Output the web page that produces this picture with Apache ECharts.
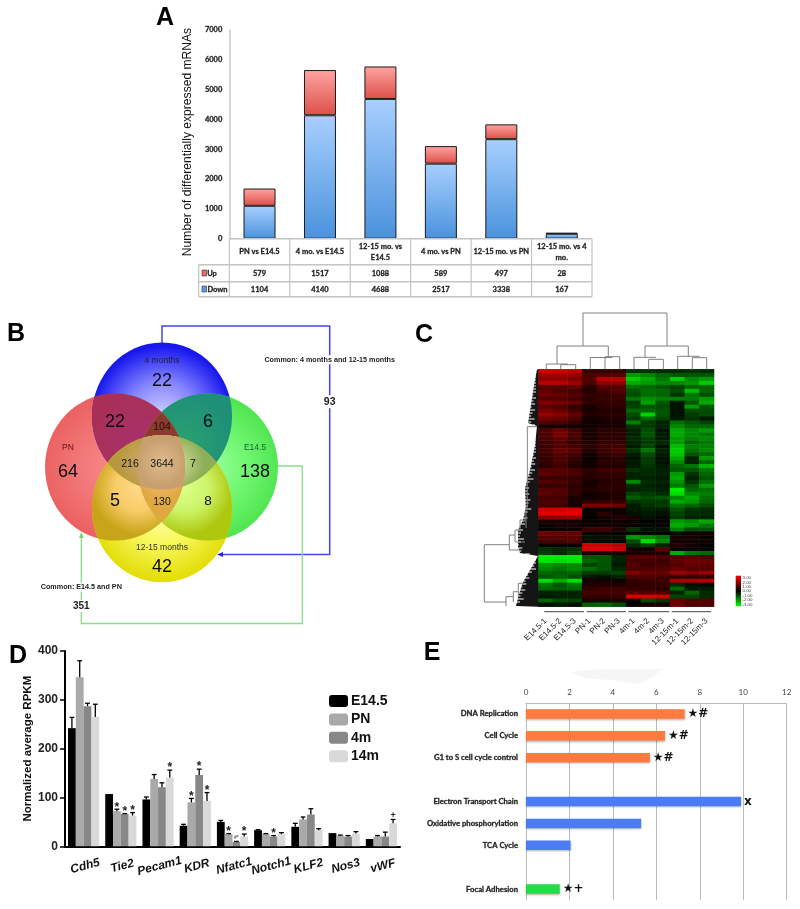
<!DOCTYPE html>
<html><head><meta charset="utf-8">
<style>html,body{margin:0;padding:0;background:#fff}#c{width:800px;height:909px}</style>
<script src="https://cdn.jsdelivr.net/npm/echarts@6/dist/echarts.min.js"></script>
</head><body><div id="c"></div>
<script>
// ---------- Panel A data
const aCategories = ['PN vs E14.5','4 mo. vs E14.5','12-15 mo. vs\nE14.5','4 mo. vs PN','12-15 mo. vs PN','12-15 mo. vs 4\nmo.'];
const aUp = [579,1517,1088,589,497,28];
const aDown = [1104,4140,4688,2517,3338,167];
// ---------- Panel B data
const vennBig = {only4m:22, rb:22, bg:6, onlyPN:64, onlyE:138, ry:5, gy:8, only12:42};
const vennSmall = {rbg:104, rby:216, all:3644, bgy:7, rgy:130};
const commonLate = 93, commonEarly = 351;
// ---------- Panel C data
const cColumns = ['E14.5-1','E14.5-2','E14.5-3','PN-1','PN-2','PN-3','4m-1','4m-2','4m-3','12-15m-1','12-15m-2','12-15m-3'];
const cRows = [
[2.4,2.4,2.2,.6,.6,.6,-.6,-.6,-.5,-.5,-.6,-.5],
[1.9,1.9,1.7,.9,1.0,1.0,-1.8,-1.5,-1.2,-1.0,-1.0,-1.0],
[1.7,1.7,1.5,1.0,2.2,2.2,-2.4,-2.0,-1.4,-2.4,-1.6,-1.8],
[2.2,2.2,1.8,.9,1.7,1.7,-2.0,-1.8,-1.6,-1.6,-1.8,-2.4],
[1.0,1.0,1.2,.5,1.0,1.0,-1.3,-1.2,-1,-.8,-1.2,-1.2],
[1.1,.9,.8,.4,.8,1.0,-1.0,-1.3,-1.2,-.9,-2.2,-1.2],
[1.3,1.2,1.0,.6,.6,.7,-.9,-1.3,-1.2,-.6,-1.4,-.9],
[1.0,1.0,.8,.5,.7,.7,-1.4,-1.7,-1.5,-1.5,-1.4,-1.8],
[1.5,1.4,1.2,.6,.6,.6,-.7,-1.9,-1.0,-.3,-1,-2.0],
[1.1,.9,.6,.3,.5,.5,-.8,-1.0,-.9,-.2,-1.8,-1.0],
[1.4,1.2,.8,.3,.4,.4,-1.2,-1.2,-1,-.2,-.9,-.9],
[1.8,1.6,1.2,.4,.5,.5,-.9,-2.5,-1.0,-.2,-.7,-.9],
[1.3,1.2,.9,.2,.3,.4,-.7,-1.2,-.8,-.3,-.6,-.3],
[1.0,.9,.6,.2,.3,.3,-1.5,-.7,-.4,-1.3,-1.0,-.8],
[.3,.3,.2,.2,.3,.3,-.6,-.7,-.4,-1.6,-1.2,-1.2],
[.9,1.3,.8,.3,.5,.5,-.4,-.9,-.2,-2,-1.6,-1.8],
[.9,1.4,.9,.3,.5,.5,-.4,-1.0,-.3,-2,-1.6,-1.4],
[.9,1.2,.8,.3,.5,.5,-.5,-.8,-.3,-1.8,-1.5,-1.6],
[.7,1.0,.6,.4,.6,.6,-.4,-.7,-.5,-1.8,-1.2,-1.4],
[.7,1.0,.8,.5,.7,.8,-.3,-.8,-.2,-2.2,-1.5,-1.5],
[.8,1.2,1.0,.4,.7,.9,-.6,-1.4,-.4,-2.4,-1.3,-1.6],
[.7,1.0,.8,.2,.6,.7,-.3,-.9,-.3,-2.3,-1,-1.2],
[.6,.9,.6,.1,.4,.5,-.2,-.7,-.2,-2.0,-.4,-1.8],
[.6,.9,.5,.2,.5,.5,-.3,-.7,-.2,-1.6,-.4,-1.2],
[.5,.8,.4,.2,.4,.4,-.3,-.6,-.3,-1.2,-1.4,-2.1],
[1.0,1.0,.8,.5,.7,.7,-.6,-.5,-.4,-1,-1,-1.4],
[1.1,1.0,.9,.5,.6,.6,-.4,-.5,-.4,-1.8,-.6,-1.2],
[.7,.7,.6,.4,.5,.5,-.4,-.4,-.3,-2,-.4,-1],
[1.0,.9,.7,.3,.4,.5,-1.6,-.5,-.4,-1.7,-.6,-1.3],
[.6,.7,.5,.3,.5,.5,-.5,-.4,-.3,-1.4,-1.0,-1.8],
[1.0,1.0,.6,.4,.5,.5,-.4,-.5,-.4,-2.8,-1.2,-1.3],
[1.1,1.0,.6,.2,.3,.4,-.8,-.7,-.5,-2.6,-1.6,-1.5],
[.8,.8,.3,.2,.3,.4,-1.1,-.9,-1.0,-1.6,-2.0,-1.3],
[.9,.9,.3,.5,.6,.6,-.6,-.7,-.6,-2,-1.8,-1.2],
[.8,.7,.2,1.5,1.5,1.3,-.3,-.6,-.7,-1.4,-1.2,-.9],
[2.5,2.5,2.6,.1,.1,.2,-.3,-.4,-.3,-1,-.6,-.5],
[2.7,2.7,2.7,.1,.5,.2,-.2,-.3,-.2,-.8,-.5,-.5],
[1.6,1.7,1.8,0,.3,.4,.3,-.2,-.1,-.7,-.4,-.4],
[.3,.3,.2,.1,.1,.2,.2,0,.1,-1.8,-1.6,-2.0],
[.1,.3,.3,.1,.2,.2,.1,-.1,.1,-2,-1.8,-1.4],
[0,.2,.2,.7,.8,.4,-.6,-.2,-.2,-1.5,-.9,-1.0],
[1.3,1.2,1.2,.1,.1,.1,-.1,-.1,0,-.2,.2,.2],
[1.0,1.0,1.0,-.2,-.2,-.2,-1.8,-1.6,-1.4,.3,.3,.1],
[.8,.8,.9,-.1,-.1,-.1,-.9,-2.6,-1.6,.2,.2,.2],
[.1,.1,.1,2.4,2.4,2.2,-.5,-.8,-.4,.4,.2,0],
[-.6,-.5,-.6,2.6,2.6,2.4,.2,.2,1.0,.1,.1,.1],
[-.7,-.5,-.8,.3,.3,.3,.3,.4,.3,-2,-1.4,-1.2],
[-2.8,-2.8,-2.8,-1,-1,-.4,1,1,.9,1,1.1,1],
[-2.7,-2.6,-2.7,-1.2,-1.0,-.4,.8,.8,.7,1.1,1.3,1.2],
[-1.8,-1.6,-1.6,-.8,-1,-.3,1,.7,.8,1,1.2,1.1],
[-1.6,-1.4,-1.6,-1.3,-1,-.5,.9,.9,1,1.2,1,1.0],
[-1.2,-1.1,-1.2,-.7,-.7,-.8,1.5,1.2,1.2,1.8,1.6,1.8],
[-1.0,-1.2,-.9,-.3,-.2,-.4,.9,.9,.8,.5,.5,.5],
[-2.6,-2.0,-2.6,.3,.3,.2,.6,.7,.7,2,2,2.1],
[-1.4,-1.0,-1.4,.4,.4,.4,.5,.6,.6,-.5,-.2,-.1],
[-1.2,-1.1,-1.2,.6,.7,.7,.6,.6,.5,-1.2,-.3,-.3],
[-.4,-.4,-.4,.8,.8,.8,1.0,.9,.9,-.4,-1.2,-.5],
[-.3,-.4,-.4,.6,.6,.6,2.6,2.5,2.4,-.8,-.8,-.5],
[-1.2,-.9,-.8,.3,.3,.3,.1,-.9,-.6,1.2,1,1],
[-.2,-.3,-.2,-1.1,-1.2,-.9,.1,.3,.3,1.3,.9,.9]
];
const cScaleLabels = ['3.00','2.00','1.00','0.00','-1.00','-2.00','-3.00'];
// ---------- Panel D data
const dGenes = ['Cdh5','Tie2','Pecam1','KDR','Nfatc1','Notch1','KLF2','Nos3','vWF'];
const dE145 = [242,107,96,42,50,33,40,27,15];
const dPN   = [346,72,138,90,25,25,55,22,20];
const d4m   = [287,66,121,146,9,20,65,20,20];
const d14m  = [265,63,141,93,20,25,33,26,47];
const dE145Top = [264,107,101,45,53,34,47,27,15];
const dPNTop   = [380,76,147,98,26,26,60,23,22];
const d4mTop   = [293,67,130,158,10,22,77,22,29];
const d14mTop  = [291,69,156,110,25,28,36,30,55];
const dPNMarks = ['','*','','*','*','','','',''];
const d4mMarks = ['','*','','*','#*','*','','',''];
const d14mMarks = ['','*','*','*','*','','','','+'];
// ---------- Panel E data
const ePathways = ['DNA Replication','Cell Cycle','G1 to S cell cycle control','','Electron Transport Chain','Oxidative phosphorylation','TCA Cycle','','Focal Adhesion'];
const eValues = [7.3,6.4,5.7,null,9.9,5.3,2.05,null,1.55];
const eMarks = ['★#','★#','★#','','x','','','','★+'];
const eColors = ['#ff7a3e','#ff7a3e','#ff7a3e','#fff','#4c7cf2','#4c7cf2','#4c7cf2','#fff','#22dd44'];

// ---------- helpers
const SANS='"Liberation Sans",Arial,sans-serif', LATO='Lato,sans-serif';
const HEAVY={textBorderColor:'#333',textBorderWidth:.3};
const HEAVY_EL={stroke:'#333',lineWidth:.3};
const G=[];
const line=(pts,stroke,lw,z)=>G.push({type:'polyline',z:z||5,silent:true,shape:{points:pts},style:{stroke,lineWidth:lw||1,fill:null}});
const txt=(t,x,y,o)=>G.push({type:'text',z:(o&&o.z)||20,silent:true,x,y,rotation:(o&&o.rot)||0,style:Object.assign({text:String(t),fill:'#111',font:'10px '+SANS,align:'center',verticalAlign:'middle'},o&&o.s)});

// Panel letters
[['A',165,18],['B',16,334],['C',424,335],['D',18,656],['E',432,653]].forEach(l=>txt(l[0],l[1],l[2],{s:{font:'bold 25px '+SANS,fill:'#000'}}));
txt('Number of differentially expressed mRNAs',188,142,{rot:Math.PI/2,s:{font:'12.1px '+SANS,fill:'#111'}});

// Panel A table rules
const tx0=229.3,tw=362.7/6,trows=[238.7,264.7,281.7,296.7],tl=198.7;
line([[tx0,trows[0]],[tx0+tw*6,trows[0]]],'#c4c4c4',1.5);
trows.slice(1).forEach(y=>line([[tl,y],[tx0+tw*6,y]],'#c4c4c4',1.5));
for(let i=0;i<=6;i++) line([[tx0+tw*i,trows[0]],[tx0+tw*i,trows[3]]],'#c4c4c4',1.2);
line([[tl,trows[1]],[tl,trows[3]]],'#c4c4c4',1.2);
G.push({type:'rect',z:6,silent:true,shape:{x:202,y:270,width:4.5,height:6},style:{fill:'#e86a62',stroke:'#333',lineWidth:.6}});
G.push({type:'rect',z:6,silent:true,shape:{x:202,y:286,width:4.5,height:6},style:{fill:'#5a9ee0',stroke:'#333',lineWidth:.6}});
txt('Up',212,273.5,{s:Object.assign({font:'bold 7.5px '+LATO,fill:'#222'},HEAVY_EL)});
txt('Down',217.5,289.5,{s:Object.assign({font:'bold 7.5px '+LATO,fill:'#222'},HEAVY_EL)});

// Panel B venn: convex regions are stacked from single sets to the four-way centre
const E={r:[115,467,70,73.6],b:[162,416,70,73.6],g:[208,467,70,73.6],y:[162,508.7,70,73.6]};
const inside=(p,e)=>{const dx=(p[0]-e[0])/e[2],dy=(p[1]-e[1])/e[3];return dx*dx+dy*dy<=1.0001;};
function regionPts(keys){
  let pts=[];
  keys.split('').forEach(k=>{const e=E[k];for(let a=0;a<720;a++){const t=a/720*2*Math.PI,p=[e[0]+e[2]*Math.cos(t),e[1]+e[3]*Math.sin(t)];if(keys.split('').every(q=>inside(p,E[q])))pts.push(p);}});
  if(!pts.length)return pts;
  const cx=pts.reduce((s,p)=>s+p[0],0)/pts.length,cy=pts.reduce((s,p)=>s+p[1],0)/pts.length;
  pts.sort((a,b)=>Math.atan2(a[1]-cy,a[0]-cx)-Math.atan2(b[1]-cy,b[0]-cx));
  return pts;
}
const rad=(stops)=>({type:'radial',x:.5,y:.5,r:.5,colorStops:stops.map((c,i)=>({offset:i/(stops.length-1),color:c}))});
const vennSets=[['r',['#f88a8a','#f27878','#ec6262']],['b',['#d0d0ff','#8484ff','#1818ee']],['g',['#a0ffa0','#74f874','#52e652']],['y',['#ffffb8','#f8f85c','#e4de0c']]];
vennSets.forEach(s=>{const e=E[s[0]];G.push({type:'ellipse',z:7,silent:true,shape:{cx:e[0],cy:e[1],rx:e[2],ry:e[3]},style:{fill:rad(s[1])}});});
const vennRegions=[['rb',['#a8306c','#a83058']],['bg',['#2aa070','#1f9078']],['ry',['#ffd888','#f8cc68','#c8a418']],['gy',['#dcff88','#ccf468','#aec810']],['rg',['#c09030','#c09030']],['by',['#c8c080','#a8a040']],
['rbg',['#8c3a2c','#8c3a2c']],['rby',['#cfac76','#b89a3e']],['bgy',['#cfe09a','#8fae58']],['rgy',['#f4bc70','#e0a840']],['rbgy',['#dcbc8c','#c8a070']]];
vennRegions.forEach((r,i)=>{const pts=regionPts(r[0]);if(pts.length)G.push({type:'polygon',z:8+r[0].length,silent:true,shape:{points:pts},style:{fill:rad(r[1])}});});
const big=f=>({s:{font:f+'px '+SANS,fill:'#0c0c14'}});
txt(vennBig.only4m,162,381,big(18));txt(vennBig.rb,115,422,big(18));txt(vennBig.bg,208,422,big(18));
txt(vennBig.onlyPN,68,472,big(18));txt(vennBig.onlyE,255,472,big(18));txt(vennBig.ry,115,501,big(18));
txt(vennBig.gy,208,501,big(13.5));txt(vennBig.only12,162,567,big(18));
const sm={s:{font:'10.5px '+SANS,fill:'#1a1410'}};
txt(vennSmall.rbg,162,427,sm);txt(vennSmall.rby,130,464,sm);txt(vennSmall.all,162,464,sm);txt(vennSmall.bgy,193,464,sm);txt(vennSmall.rgy,162,502,sm);
const lb={s:{font:'8.5px '+SANS,fill:'#223'}};
txt('4 months',162,361,lb);txt('PN',68,448,{s:{font:'8.5px '+SANS,fill:'#611'}});txt('E14.5',255,448,{s:{font:'8.5px '+SANS,fill:'#163'}});txt('12-15 months',162,548,{s:{font:'8.5px '+SANS,fill:'#332'}});
line([[162,343],[162,326],[329.7,326],[329.7,554.5],[222,554.5]],'#4444ee',1.5,6);
G.push({type:'polygon',z:6,silent:true,shape:{points:[[217,554.5],[223,552],[223,557]]},style:{fill:'#2222ee'}});
line([[278,466],[302.3,466],[302.3,623.5],[81.3,623.5],[81.3,538]],'#88e088',1.3,6);
G.push({type:'polygon',z:6,silent:true,shape:{points:[[81.3,532],[79,538],[83.6,538]]},style:{fill:'#66dd66'}});
const white={backgroundColor:'#fff',padding:[1,1]};
txt('Common: 4 months and 12-15 months',329.7,359.7,{s:Object.assign({font:'bold 7.2px '+SANS,fill:'#222'},white)});
txt(commonLate,329.7,401.7,{s:Object.assign({font:'bold 10.5px '+SANS,fill:'#222'},white)});
txt('Common: E14.5 and PN',81.3,587,{s:Object.assign({font:'bold 7.2px '+SANS,fill:'#222'},white)});
txt(commonEarly,81.3,606,{s:Object.assign({font:'bold 10px '+SANS,fill:'#222'},white)});

// Panel C dendrograms
const treeGray='#808080';
[ [[583,313],[667,313]],
  [[583,313],[583,346]],[[557,346],[608.3,346]],[[557,346],[557,364]],[[608.3,346],[608.3,356.7]],
  [[546.3,364],[568,364]],[[546.3,364],[546.3,369.3]],[[560.7,364.7],[575.7,364.7]],[[560.7,364.7],[560.7,369.3]],[[575.7,364.7],[575.7,369.3]],
  [[590.3,357.5],[612.3,357.5]],[[590.3,357.5],[590.3,369.3]],[[605,356.7],[619.7,356.7]],[[605,356.7],[605,369.3]],[[619.7,356.7],[619.7,369.3]],
  [[667,313],[667,346]],[[645,346],[688.3,346]],[[645,346],[645,357.3]],[[688.3,346],[688.3,356]],
  [[634,357.3],[656,357.3]],[[634,357.3],[634,369.3]],[[648.7,359.3],[663.3,359.3]],[[648.7,359.3],[648.7,369.3]],[[663.3,359.3],[663.3,369.3]],
  [[677.7,356.3],[699.7,356.3]],[[677.7,356.3],[677.7,369.3]],[[692.3,357.7],[706.7,357.7]],[[692.3,357.7],[692.3,369.3]],[[706.7,357.7],[706.7,369.3]]
].forEach(p=>line(p,treeGray,1));
const hairEdge=[[537,369.5],[534,385],[531.7,400],[528,423],[537,426],[535,445],[530,470],[525,488],[525.7,507],[523,520],[518,530],[518,547],[520,553],[538,556],[530,570],[523,582],[519,594],[516,606]];
G.push({type:'polygon',z:6,silent:true,shape:{points:hairEdge.concat([[538.3,606.7],[538.3,369.3]])},style:{fill:'#151515'}});
const hairLen=[2,4,1,5,3,2,6,3,1,4];
const edgeAt=y=>{for(let i=1;i<hairEdge.length;i++){if(y<=hairEdge[i][1]){const a=hairEdge[i-1],b=hairEdge[i];return a[0]+(b[0]-a[0])*(y-a[1])/(b[1]-a[1]);}}return 516;};
let hi=0;for(let y=371;y<605;y+=3,hi++){const x=edgeAt(y);line([[x-1,y],[Math.min(x+hairLen[hi%10],536),y]],'#ffffff',1,6);}
[ [[484.3,544.7],[509.3,544.7]],[[484.3,544.7],[484.3,602]],[[484.3,602],[506,602]],
  [[509.3,535],[509.3,550]],[[509.3,535],[515,535]],[[509.3,550],[520,550]],[[515,530],[515,542]],[[515,530],[520,530]],[[515,542],[525,542]],
  [[520,520],[520,534]],[[520,520],[526,520]],[[526,510],[526,528]],[[527.3,426.7],[527.3,510]],[[527.3,426.7],[537,426.7]],
  [[506,596.7],[506,606]],[[506,596.7],[513.3,596.7]],[[513.3,591.7],[513.3,602]],[[513.3,591.7],[518.3,591.7]],[[518.3,583.3],[518.3,597]],[[518.3,583.3],[525,583.3]]
].forEach(p=>line(p,treeGray,1,7));
// Panel C column group rules and colour key
[[544.3,584],[586.7,626],[628.3,669.3],[671.7,711]].forEach(r=>line([[r[0],611.7],[r[1],611.7]],'#444',1));
G.push({type:'rect',z:6,silent:true,shape:{x:735.7,y:575.7,width:5.3,height:30.5},style:{fill:{type:'linear',x:0,y:0,x2:0,y2:1,colorStops:[{offset:0,color:'#ff0000'},{offset:.5,color:'#000'},{offset:1,color:'#00ff00'}]}}});
cScaleLabels.forEach((t,i)=>txt(t,742.5,578+i*4.4,{s:{font:'4.4px '+SANS,align:'left',fill:'#444'}}));

// Panel E smudge
G.push({type:'polygon',z:1,silent:true,shape:{points:[[570,672],[600,669],[663,669],[652,677],[640,684],[610,680],[585,678]]},style:{fill:'#f6f6f6'}});

// ---------- Series data built from the arrays
const dSeriesVals=[dE145,dPN,d4m,d14m], dTops=[dE145Top,dPNTop,d4mTop,d14mTop], dMarks=[dGenes.map(()=>''),dPNMarks,d4mMarks,d14mMarks];
const dBarW=7.8;
const dErr=[];dSeriesVals.forEach((vals,s)=>vals.forEach((v,c)=>dErr.push([c,s,v,dTops[s][c],dMarks[s][c]])));
const heat=[];cRows.forEach((r,y)=>r.forEach((v,x)=>heat.push([x,y,v])));
const aTableData=aCategories.map((c,i)=>[i,aUp[i],aDown[i]]);
const blueFill={type:'linear',x:0,y:0,x2:0,y2:1,colorStops:[{offset:0,color:'#a8cfff'},{offset:1,color:'#4a92dc'}]};
const redFill={type:'linear',x:0,y:0,x2:0,y2:1,colorStops:[{offset:0,color:'#ffa4a2'},{offset:1,color:'#dc5048'}]};

const option={
 animation:false,backgroundColor:'#fff',
 legend:{data:['E14.5','PN','4m','14m'],left:329,top:694,padding:0,orient:'vertical',itemWidth:19,itemHeight:12,itemGap:4.4,selectedMode:false,textStyle:{fontFamily:SANS,fontWeight:'bold',fontSize:14,color:'#111',padding:[0,0,0,-2]}},
 grid:[
  {left:229.3,top:30,width:362.7,height:208.7},
  {left:65,top:651,width:335,height:195.3},
  {left:526,top:703,width:260.7,height:197},
  {left:538.3,top:369.3,width:175.7,height:237.4}
 ],
 visualMap:{show:false,seriesIndex:7,min:-3,max:3,inRange:{color:['#00ff00','#000000','#ff0000']}},
 xAxis:[
  {gridIndex:0,type:'category',data:aCategories,axisLine:{show:false},axisTick:{show:false},axisLabel:Object.assign({interval:0,margin:13,verticalAlign:'middle',lineHeight:11,fontFamily:LATO,fontWeight:'bold',fontSize:7.5,color:'#222'},HEAVY)},
  {gridIndex:1,type:'category',data:dGenes,axisLine:{lineStyle:{color:'#000',width:2}},axisTick:{alignWithLabel:true,length:5,lineStyle:{color:'#000',width:1.5}},axisLabel:{interval:0,rotate:15,margin:14,align:'center',verticalAlign:'top',fontFamily:SANS,fontWeight:'bold',fontStyle:'italic',fontSize:12,color:'#111'}},
  {gridIndex:2,type:'value',position:'top',min:0,max:12,interval:2,axisLine:{show:true,lineStyle:{color:'#bbb',width:1}},axisTick:{show:false},splitLine:{lineStyle:{color:'#bbb',width:1}},axisLabel:{margin:7,fontFamily:LATO,fontSize:8,color:'#444'}},
  {gridIndex:3,type:'category',data:cColumns,axisLine:{show:false},axisTick:{show:false},splitLine:{show:false},axisLabel:{interval:0,rotate:45,margin:13,fontFamily:SANS,fontSize:8,color:'#222'}}
 ],
 yAxis:[
  {gridIndex:0,type:'value',min:0,max:7000,interval:1000,axisLine:{show:true,lineStyle:{color:'#c8c8c8',width:1.5}},axisTick:{show:false},splitLine:{show:false},axisLabel:Object.assign({margin:7,formatter:v=>String(v),fontFamily:LATO,fontWeight:'bold',fontSize:7.5,color:'#222'},HEAVY)},
  {gridIndex:1,type:'value',min:0,max:400,interval:100,name:'Normalized average RPKM',nameLocation:'middle',nameGap:31,nameTextStyle:{fontFamily:SANS,fontWeight:'bold',fontSize:11.5,color:'#111'},axisLine:{show:true,lineStyle:{color:'#000',width:2}},axisTick:{show:true,length:5,lineStyle:{color:'#000',width:1.5}},splitLine:{show:false},axisLabel:{margin:7,fontFamily:SANS,fontWeight:'bold',fontSize:12,color:'#222'}},
  {gridIndex:2,type:'category',inverse:true,data:ePathways,axisLine:{lineStyle:{color:'#bbb',width:1}},axisTick:{show:false},axisLabel:Object.assign({interval:0,margin:8,fontFamily:LATO,fontWeight:'bold',fontSize:7.7,color:'#222'},HEAVY)},
  {gridIndex:3,type:'category',inverse:true,data:cRows.map((r,i)=>String(i)),show:false}
 ],
 graphic:{elements:G},
 series:[
  {name:'Down',type:'bar',xAxisIndex:0,yAxisIndex:0,stack:'a',barWidth:32,data:aDown,itemStyle:{color:blueFill,borderColor:'#1a1a1a',borderWidth:1}},
  {name:'Up',type:'bar',xAxisIndex:0,yAxisIndex:0,stack:'a',barWidth:32,data:aUp,itemStyle:{color:redFill,borderColor:'#1a1a1a',borderWidth:1}},
  {name:'E14.5',type:'bar',xAxisIndex:1,yAxisIndex:1,barWidth:dBarW,barGap:0,data:dE145,itemStyle:{color:'#000'}},
  {name:'PN',type:'bar',xAxisIndex:1,yAxisIndex:1,barWidth:dBarW,barGap:0,data:dPN,itemStyle:{color:'#a9a9a9'}},
  {name:'4m',type:'bar',xAxisIndex:1,yAxisIndex:1,barWidth:dBarW,barGap:0,data:d4m,itemStyle:{color:'#878787'}},
  {name:'14m',type:'bar',xAxisIndex:1,yAxisIndex:1,barWidth:dBarW,barGap:0,data:d14m,itemStyle:{color:'#d9d9d9'}},
  {name:'Pathways',type:'bar',xAxisIndex:2,yAxisIndex:2,barWidth:9.5,
   data:eValues.map((v,i)=>({value:v,itemStyle:{color:eColors[i],shadowColor:'rgba(0,0,0,.3)',shadowBlur:2,shadowOffsetY:1},label:{formatter:eMarks[i]}})),
   label:{show:true,position:'right',distance:3,fontFamily:'"DejaVu Sans",sans-serif',fontWeight:'bold',fontSize:12,color:'#111'}},
  {name:'Heatmap',type:'heatmap',xAxisIndex:3,yAxisIndex:3,data:heat,progressive:0,itemStyle:{borderWidth:0}},
  {name:'Errors',type:'custom',xAxisIndex:1,yAxisIndex:1,data:dErr,clip:false,silent:true,z:4,encode:{x:0,y:3},
   renderItem:(p,api)=>{
    const c=api.value(0),s=api.value(1),v=api.value(2),t=api.value(3),mark=dErr[p.dataIndex][4];
    const base=api.coord([c,v]),top=api.coord([c,t]);
    const x=base[0]+(s-1.5)*dBarW,ch=[];
    if(t>v){ch.push({type:'line',shape:{x1:x,y1:base[1],x2:x,y2:top[1]},style:{stroke:'#000',lineWidth:1.3}});
            ch.push({type:'line',shape:{x1:x-2.4,y1:top[1],x2:x+2.4,y2:top[1]},style:{stroke:'#000',lineWidth:1.3}});}
    if(mark){const small=mark==='#*',plus=mark==='+';ch.push({type:'text',style:{text:mark,x:x,y:top[1]-(small?1:plus?4:2),align:'center',verticalAlign:small?'bottom':'middle',font:'bold '+(small?5:plus?9:12)+'px '+SANS,fill:small?'#555':'#222'}});}
    return {type:'group',children:ch};
   }},
  {name:'Table',type:'custom',xAxisIndex:0,yAxisIndex:0,data:aTableData,clip:false,silent:true,encode:{x:0,y:1},
   renderItem:(p,api)=>{
    const x=api.coord([api.value(0),0])[0];
    const st=(t,y)=>({type:'text',style:Object.assign({text:String(t),x,y,align:'center',verticalAlign:'middle',font:'bold 7.5px '+LATO,fill:'#222'},HEAVY_EL)});
    return {type:'group',children:[st(api.value(1),273.5),st(api.value(2),289.5)]};
   }}
 ]
};
const chart=echarts.init(document.getElementById('c'),null,{renderer:'canvas',width:800,height:909});
chart.setOption(option);
</script></body></html>
